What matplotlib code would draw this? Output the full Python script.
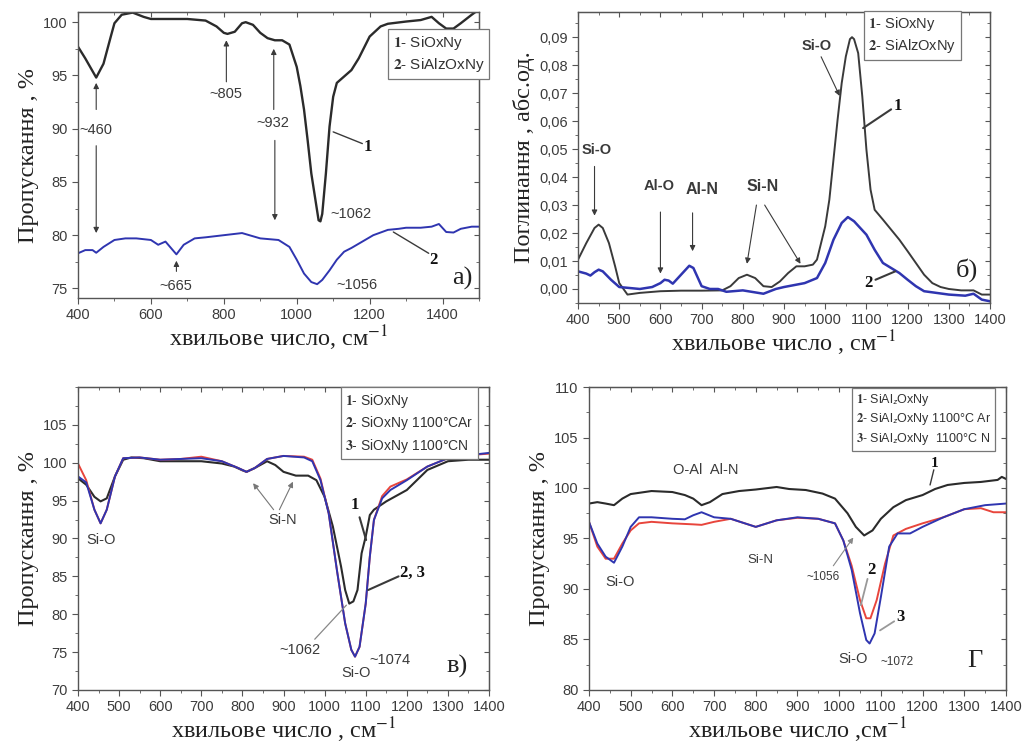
import numpy as np
import matplotlib.pyplot as plt
from matplotlib.ticker import MultipleLocator, FuncFormatter

plt.rcParams['font.family'] = ['Liberation Sans', 'DejaVu Sans']
plt.rcParams['mathtext.fontset'] = 'stix'

# --- panel a) transmission, %
a1_x = [400, 420, 450, 470, 490, 500, 520, 550, 580, 600, 650, 700, 750, 780, 800, 810, 830, 850, 860,
        880, 900, 920, 940, 960, 980, 1000, 1010, 1020, 1030, 1040, 1050, 1060, 1065, 1070, 1080, 1090,
        1100, 1110, 1130, 1150, 1170, 1200, 1230, 1250, 1300, 1340, 1370, 1390, 1410, 1430, 1450, 1480, 1500]
a1_y = [97.7, 96.6, 94.8, 96.1, 98.65, 99.9, 100.7, 100.9, 100.5, 100.3, 100.3, 100.3, 100.15, 99.6, 99.0,
        98.9, 99.1, 99.9, 100.0, 99.75, 99.0, 98.5, 98.3, 98.3, 97.9, 95.8, 94.0, 91.8, 88.9, 85.8, 83.6,
        81.4, 81.3, 82.0, 85.8, 90.2, 93.0, 94.3, 94.9, 95.5, 96.6, 98.65, 99.6, 99.85, 100.06, 100.2,
        100.5, 99.9, 99.4, 99.4, 99.9, 100.7, 101.2]
a2_x = [400, 420, 440, 450, 470, 500, 530, 560, 600, 620, 640, 660, 670, 690, 720, 750, 800, 850, 880,
        900, 950, 980, 1000, 1020, 1040, 1056, 1070, 1090, 1110, 1130, 1150, 1180, 1210, 1250, 1280,
        1300, 1340, 1370, 1390, 1410, 1430, 1450, 1480, 1500]
a2_y = [78.3, 78.6, 78.6, 78.35, 78.9, 79.55, 79.7, 79.7, 79.55, 79.1, 79.4, 78.6, 78.2, 79.1, 79.7, 79.8,
        80.0, 80.2, 79.9, 79.7, 79.55, 78.9, 77.7, 76.4, 75.6, 75.4, 75.8, 76.7, 77.7, 78.45, 78.8, 79.4,
        80.0, 80.5, 80.6, 80.7, 80.7, 80.8, 81.05, 80.3, 80.25, 80.6, 80.8, 80.8]

# --- panel б) absorbance
b1_x = [400, 420, 440, 450, 460, 475, 490, 500, 520, 550, 600, 650, 700, 750, 770, 790, 810, 830, 850,
        870, 890, 910, 930, 950, 970, 980, 1000, 1010, 1020, 1030, 1040, 1050, 1060, 1065, 1070, 1080,
        1090, 1100, 1110, 1120, 1140, 1160, 1180, 1200, 1220, 1240, 1260, 1280, 1300, 1330, 1360, 1380, 1400]
b1_y = [0.0105, 0.0164, 0.0218, 0.023, 0.0218, 0.0164, 0.0081, 0.0021, -0.002, -0.0014, -0.0008, -0.0006,
        -0.0006, -0.0005, 0.001, 0.0039, 0.0051, 0.0039, 0.001, 0.0007, 0.0027, 0.0057, 0.0081, 0.0081,
        0.0087, 0.0105, 0.0224, 0.0319, 0.0462, 0.0605, 0.0736, 0.0831, 0.0893, 0.090, 0.0893, 0.0843,
        0.0688, 0.0498, 0.0355, 0.0283, 0.0248, 0.0212, 0.0176, 0.0135, 0.0093, 0.0051, 0.0021, 0.0007,
        0.0, -0.0005, -0.0005, -0.002, -0.002]
b2_x = [400, 420, 430, 440, 450, 460, 480, 500, 550, 580, 600, 610, 620, 630, 650, 670, 680, 700, 720,
        740, 760, 800, 850, 880, 900, 950, 980, 1000, 1020, 1040, 1055, 1070, 1100, 1120, 1140, 1160,
        1180, 1200, 1220, 1240, 1270, 1300, 1340, 1360, 1380, 1400]
b2_y = [0.0063, 0.0055, 0.0048, 0.006, 0.0069, 0.0063, 0.0033, 0.0007, 0.0, 0.0007, 0.0021, 0.0033, 0.003,
        0.0019, 0.0051, 0.0083, 0.0075, 0.001, 0.0, 0.0, -0.001, -0.0005, -0.0017, 0.0, 0.0007, 0.0021,
        0.0039, 0.0093, 0.0176, 0.0236, 0.0257, 0.0242, 0.0194, 0.014, 0.0093, 0.0075, 0.0057, 0.0033,
        0.001, -0.0008, -0.0014, -0.002, -0.0024, -0.0017, -0.0038, -0.0044]

# --- panel в) SiOxNy annealing
c_x = [400, 420, 440, 455, 470, 490, 510, 530, 560, 600, 650, 700, 750, 780, 800, 810, 830, 860, 880,
       900, 930, 960, 980, 1000, 1020, 1040, 1050, 1060, 1070, 1080, 1090, 1100, 1110, 1120, 1150, 1200,
       1250, 1300, 1350, 1400]
c1_y = [97.95, 97.1, 95.5, 94.9, 95.3, 98.2, 100.4, 100.7, 100.6, 100.2, 100.2, 100.2, 99.9, 99.5, 99.0,
        98.8, 99.3, 100.2, 99.7, 98.8, 98.3, 98.3, 97.7, 95.5, 91.6, 86.3, 83.2, 81.4, 81.7, 83.2, 88.05,
        90.25, 93.1, 93.8, 94.9, 96.4, 99.05, 100.2, 100.4, 100.4]
c23_x = [400, 420, 440, 455, 470, 490, 510, 550, 600, 650, 700, 750, 790, 810, 830, 860, 900, 950, 970,
         990, 1010, 1030, 1050, 1065, 1074, 1085, 1100, 1110, 1120, 1140, 1160, 1200, 1250, 1300, 1350, 1400]
c2_y = [99.9, 97.7, 93.8, 92.0, 93.8, 98.2, 100.6, 100.7, 100.4, 100.5, 100.8, 100.2, 99.3, 98.8, 99.3,
        100.5, 100.9, 100.8, 100.4, 97.9, 93.3, 85.8, 78.8, 75.3, 74.4, 75.7, 81.4, 87.6, 92.45, 95.6,
        96.85, 97.8, 99.5, 100.6, 101.0, 101.2]
c3_y = [98.2, 97.4, 93.8, 92.0, 93.8, 98.2, 100.6, 100.7, 100.4, 100.5, 100.6, 100.2, 99.3, 98.8, 99.3,
        100.5, 100.9, 100.7, 100.2, 97.7, 93.3, 85.8, 78.8, 75.3, 74.4, 75.7, 81.4, 87.6, 92.45, 95.3,
        96.4, 97.7, 99.5, 100.6, 101.0, 101.3]

# --- panel г) SiAlzOxNy annealing
d1_x = [400, 420, 440, 460, 480, 500, 550, 600, 630, 650, 670, 690, 720, 760, 800, 850, 880, 920, 960,
        990, 1020, 1040, 1060, 1080, 1100, 1130, 1160, 1200, 1230, 1260, 1300, 1340, 1380, 1390, 1400]
d1_y = [98.46, 98.6, 98.46, 98.3, 98.95, 99.4, 99.7, 99.6, 99.3, 98.95, 98.3, 98.6, 99.4, 99.7, 99.85,
        100.1, 99.9, 99.8, 99.45, 98.95, 97.5, 96.15, 95.3, 95.8, 96.95, 98.1, 98.8, 99.3, 99.9, 100.3,
        100.5, 100.6, 100.8, 101.1, 100.9]
d3_x = [400, 420, 440, 460, 480, 500, 520, 550, 600, 630, 650, 670, 700, 740, 800, 850, 900, 950, 990,
        1010, 1030, 1050, 1065, 1073, 1085, 1100, 1120, 1140, 1170, 1200, 1250, 1300, 1350, 1400]
d3_y = [96.65, 94.5, 93.2, 92.6, 94.2, 96.15, 97.1, 97.1, 96.95, 96.9, 97.3, 97.6, 97.1, 96.95, 96.15,
        96.8, 97.1, 96.95, 96.5, 94.8, 91.9, 87.6, 84.95, 84.6, 85.6, 89.2, 94.2, 95.5, 95.5, 96.15, 97.1,
        97.9, 98.3, 98.46]
d2_x = [400, 420, 440, 460, 480, 500, 520, 550, 600, 650, 670, 700, 740, 800, 850, 900, 950, 990, 1010,
        1030, 1050, 1065, 1075, 1090, 1110, 1130, 1160, 1200, 1250, 1300, 1340, 1370, 1400]
d2_y = [96.65, 94.2, 93.0, 93.0, 94.5, 95.8, 96.5, 96.65, 96.5, 96.4, 96.35, 96.65, 96.95, 96.15, 96.8,
        97.05, 96.95, 96.5, 94.8, 92.3, 88.9, 87.1, 87.1, 88.9, 92.5, 95.3, 95.95, 96.5, 97.1, 97.9, 98.0,
        97.6, 97.6]

BLACK = '#2b2b2b'
BLUE = '#2f35b0'
RED = '#e8453c'
GRAY = '#3a3a3a'
serif = 'Liberation Serif'

fig = plt.figure(figsize=(10.22, 7.49), dpi=100)
axa = fig.add_axes([0.0763, 0.6021, 0.3924, 0.3818])
axb = fig.add_axes([0.5656, 0.5955, 0.4031, 0.3885])
axc = fig.add_axes([0.0763, 0.0788, 0.4022, 0.4045])
axd = fig.add_axes([0.5763, 0.0788, 0.4080, 0.4045])


def frame(ax, xlim, ylim, xmaj, xmin, ymaj, ymin, ylab, xlab, yticks=None):
    ax.set_xlim(*xlim)
    ax.set_ylim(*ylim)
    ax.xaxis.set_major_locator(MultipleLocator(xmaj))
    ax.xaxis.set_minor_locator(MultipleLocator(xmin))
    ax.yaxis.set_major_locator(MultipleLocator(ymaj))
    ax.yaxis.set_minor_locator(MultipleLocator(ymin))
    if yticks is not None:
        ax.set_yticks(yticks)
    ax.tick_params(which='both', direction='out', labelsize=10.5, labelcolor='#3c3c3c', color='#555555')
    ax.tick_params(which='major', length=4)
    ax.tick_params(which='minor', length=2)
    for s in ax.spines.values():
        s.set_color('#555555')
        s.set_linewidth(1.0)
    top = ax.secondary_xaxis('top')
    top.set_xticks(ax.get_xticks())
    top.xaxis.set_minor_locator(MultipleLocator(xmin))
    top.tick_params(which='both', direction='in', labeltop=False, color='#555555')
    top.tick_params(which='minor', length=2)
    right = ax.secondary_yaxis('right')
    right.set_yticks(ax.get_yticks())
    right.yaxis.set_minor_locator(MultipleLocator(ymin))
    right.tick_params(which='both', direction='in', labelright=False, color='#555555')
    right.tick_params(which='minor', length=2)
    for sec in (top, right):
        for s in sec.spines.values():
            s.set_color('#555555')
    ax.set_ylabel(ylab, family=serif, fontsize=17.5, color='#222222', labelpad=3)
    ax.set_xlabel(xlab, family=serif, fontsize=17.5, color='#222222', labelpad=1)


def arrow(ax, tail, head, lw=0.8, color=GRAY):
    ax.annotate('', xy=head, xytext=tail,
                arrowprops=dict(arrowstyle='-|>', color=color, lw=lw, mutation_scale=8, shrinkA=0, shrinkB=0))


def pointer(ax, tail, head, lw=1.0, color=GRAY):
    ax.annotate('', xy=head, xytext=tail,
                arrowprops=dict(arrowstyle='-', color=color, lw=lw, shrinkA=0, shrinkB=0))


def note(ax, x, y, s, size=10.5, **kw):
    ax.text(x, y, s, fontsize=size, color=GRAY, ha='center', va='center', **kw)


def num(ax, x, y, s, size=12):
    ax.text(x, y, s, fontsize=size, family=serif, weight='bold', color='#111111', ha='center', va='center')


def legend_box(ax, x, y, lines, size=10):
    ax.text(x, y, '\n'.join(lines), transform=ax.transAxes, fontsize=size, color='#333333',
            ha='left', va='top', linespacing=1.35, clip_on=False,
            bbox=dict(boxstyle='square,pad=0.3', fc='white', ec='#777777', lw=0.9))


# ---------- a)
axa.plot(a1_x, a1_y, color=BLACK, lw=1.7)
axa.plot(a2_x, a2_y, color=BLUE, lw=1.4)
frame(axa, (400, 1500), (74.1, 100.95), 200, 100, 5, 2.5, 'Пропускання , %', 'хвильове число, см$^{-1}$')
note(axa, 450, 89.9, '~460')
arrow(axa, (450, 91.8), (450, 94.3))
arrow(axa, (450, 88.4), (450, 80.2))
note(axa, 805, 93.3, '~805')
arrow(axa, (807, 94.4), (807, 98.3))
note(axa, 935, 90.5, '~932')
arrow(axa, (937, 91.8), (937, 97.5))
arrow(axa, (940, 88.9), (940, 81.4))
note(axa, 1150, 82.0, '~1062')
num(axa, 1195, 88.3, '1')
pointer(axa, (1180, 88.6), (1100, 89.7))
note(axa, 668, 75.2, '~665')
arrow(axa, (670, 76.6), (670, 77.6))
note(axa, 1165, 75.3, '~1056')
num(axa, 1375, 77.7, '2')
pointer(axa, (1362, 78.3), (1265, 80.3))
axa.text(1455, 75.9, 'а)', family=serif, fontsize=19, ha='center', va='center', color='#222222')
legend_box(axa, 0.785, 0.925, [r'$\mathbf{1}$- SiOxNy', r'$\mathbf{2}$- SiAlzOxNy'], size=11)

# ---------- б)
axb.plot(b1_x, b1_y, color='#3a3a3a', lw=1.4)
axb.plot(b2_x, b2_y, color=BLUE, lw=1.8)
frame(axb, (400, 1400), (-0.005, 0.099), 100, 50, 0.01, 0.005, 'Поглинання , абс.од.',
      'хвильове число , см$^{-1}$')
axb.yaxis.set_major_formatter(FuncFormatter(lambda v, p: f'{v:.2f}'.replace('.', ',')))
note(axb, 444, 0.0498, 'Si-O', weight='bold')
arrow(axb, (440, 0.0438), (440, 0.0262))
note(axb, 598, 0.0367, 'Al-O', weight='bold')
arrow(axb, (600, 0.0275), (600, 0.0055))
note(axb, 700, 0.0355, 'Al-N', size=11.5, weight='bold')
arrow(axb, (678, 0.0272), (678, 0.0135))
note(axb, 849, 0.0367, 'Si-N', size=11.5, weight='bold')
arrow(axb, (833, 0.0300), (810, 0.0090))
arrow(axb, (853, 0.0300), (940, 0.0090))
note(axb, 979, 0.0867, 'Si-O', weight='bold')
arrow(axb, (990, 0.0830), (1035, 0.0690))
num(axb, 1175, 0.0655, '1')
pointer(axb, (1160, 0.0642), (1092, 0.0575), lw=1.5)
num(axb, 1106, 0.0021, '2')
pointer(axb, (1122, 0.0033), (1170, 0.0063), lw=1.5)
axb.text(1343, 0.0069, 'б)', family=serif, fontsize=19, ha='center', va='center', color='#222222')
legend_box(axb, 0.705, 0.99, [r'$\mathbf{1}$- SiOxNy', r'$\mathbf{2}$- SiAlzOxNy'], size=10.5)

# ---------- в)
axc.plot(c_x, c1_y, color=BLACK, lw=1.5)
axc.plot(c23_x, c2_y, color=RED, lw=1.4)
axc.plot(c23_x, c3_y, color=BLUE, lw=1.4)
frame(axc, (400, 1400), (70, 110), 100, 50, 5, 2.5, 'Пропускання , %', 'хвильове число , см$^{-1}$',
      yticks=[70, 75, 80, 85, 90, 95, 100, 105])
note(axc, 457, 89.8, 'Si-O')
note(axc, 899, 92.45, 'Si-N')
arrow(axc, (876, 93.8), (826, 97.3), color='#777777')
arrow(axc, (890, 93.8), (923, 97.5), color='#777777')
num(axc, 1073, 94.4, '1')
pointer(axc, (1085, 92.8), (1101, 89.8), lw=1.5)
num(axc, 1213, 85.4, '2, 3')
pointer(axc, (1180, 85.0), (1106, 83.2), lw=1.5)
note(axc, 939, 75.3, '~1062')
pointer(axc, (976, 76.7), (1053, 81.2), lw=0.9, color='#888888')
note(axc, 1077, 72.2, 'Si-O')
note(axc, 1160, 74.0, '~1074')
axc.text(1322, 73.1, 'в)', family=serif, fontsize=19, ha='center', va='center', color='#222222')
legend_box(axc, 0.65, 0.985, [r'$\mathbf{1}$- SiOxNy', r'$\mathbf{2}$- SiOxNy 1100°CAr',
                              r'$\mathbf{3}$- SiOxNy 1100°CN'])

# ---------- г)
axd.plot(d1_x, d1_y, color=BLACK, lw=1.5)
axd.plot(d2_x, d2_y, color=RED, lw=1.4)
axd.plot(d3_x, d3_y, color=BLUE, lw=1.4)
frame(axd, (400, 1400), (80, 110), 100, 50, 5, 2.5, 'Пропускання , %', 'хвильове число ,см$^{-1}$')
note(axd, 680, 101.75, 'O-Al  Al-N')
note(axd, 810, 92.85, 'Si-N', size=9.5)
note(axd, 474, 90.7, 'Si-O')
note(axd, 962, 91.2, '~1056', size=8.5)
arrow(axd, (986, 92.3), (1034, 95.1), color='#888888')
num(axd, 1078, 91.9, '2')
pointer(axd, (1068, 91.0), (1052, 88.4), lw=1.3, color='#999999')
num(axd, 1147, 87.25, '3')
pointer(axd, (1132, 86.8), (1098, 85.9), lw=1.3, color='#999999')
num(axd, 1230, 102.4, '1', size=11)
pointer(axd, (1227, 101.8), (1218, 100.3), lw=1.0)
note(axd, 1034, 83.1, 'Si-O')
note(axd, 1140, 82.8, '~1072', size=8.5)
axd.text(1326, 82.9, 'Г', family=serif, fontsize=19, ha='center', va='center', color='#222222')
legend_box(axd, 0.64, 0.985, [r'$\mathbf{1}$- SiAl$_\mathsf{z}$OxNy',
                              r'$\mathbf{2}$- SiAl$_\mathsf{z}$OxNy 1100°C Ar',
                              r'$\mathbf{3}$- SiAl$_\mathsf{z}$OxNy  1100°C N'], size=9)

fig.savefig('out.png', dpi=100)
